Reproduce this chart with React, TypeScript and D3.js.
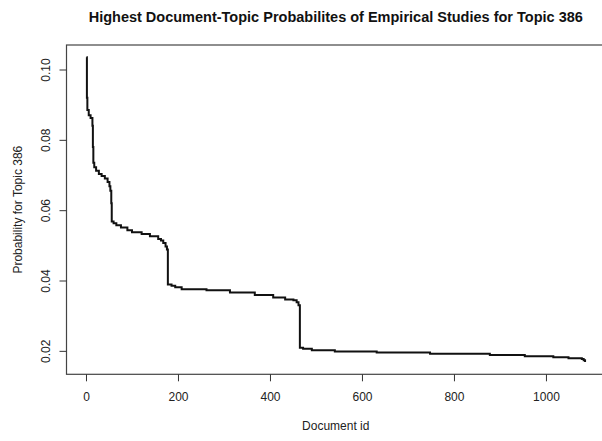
import * as d3 from 'd3';
import { useEffect, useRef } from 'react';

const WIDTH = 602;
const HEIGHT = 441;
const FONT = '"Liberation Sans", Arial, Helvetica, sans-serif';

// plot region (R base graphics box), pixels
const BOX = { left: 66.5, right: 605, top: 45, bottom: 374.3 };

// breakpoints of the sorted curve: document id where a level starts, and its probability
const docIds = [
  1, 2, 3, 6, 10, 14, 15, 16, 18, 22, 28, 34, 41, 47, 51, 53, 55, 56, 60, 66, 76, 90, 100,
  121, 139, 157, 163, 168, 173, 176, 178, 186, 194, 208, 262, 313, 367, 407, 433, 451, 458,
  462, 465, 472, 491, 541, 632, 748, 878, 954, 1016, 1049, 1078, 1082, 1085,
];
const probs = [
  0.1035, 0.092, 0.0885, 0.087, 0.0862, 0.084, 0.078, 0.0735, 0.0722, 0.0712, 0.0703, 0.0697,
  0.069, 0.068, 0.0668, 0.0655, 0.062, 0.0568, 0.0563, 0.0557, 0.0551, 0.0543, 0.0537, 0.0532,
  0.0526, 0.0518, 0.0514, 0.0507, 0.0497, 0.0488, 0.0389, 0.0385, 0.0381, 0.0375, 0.0372,
  0.0366, 0.0359, 0.0352, 0.0346, 0.0344, 0.0338, 0.033, 0.0209, 0.0206, 0.0202, 0.0198,
  0.0195, 0.0192, 0.0188, 0.0185, 0.0182, 0.0179, 0.0177, 0.0173, 0.0168,
];

const xTicks = [0, 200, 400, 600, 800, 1000];
const yTicks = [0.02, 0.04, 0.06, 0.08, 0.1];

const TITLE = 'Highest Document-Topic Probabilites of Empirical Studies for Topic 386';
const X_LABEL = 'Document id';
const Y_LABEL = 'Probability for Topic 386';

// R pads the data range by 4% on each side
function padded(extent: [number, number]): [number, number] {
  const d = (extent[1] - extent[0]) * 0.04;
  return [extent[0] - d, extent[1] + d];
}

export default function App() {
  const xAxisRef = useRef<SVGGElement>(null);
  const yAxisRef = useRef<SVGGElement>(null);

  const x = d3
    .scaleLinear()
    .domain(padded(d3.extent(docIds) as [number, number]))
    .range([BOX.left, BOX.right]);
  const y = d3
    .scaleLinear()
    .domain(padded(d3.extent(probs) as [number, number]))
    .range([BOX.bottom, BOX.top]);

  const points = docIds.map((id, i) => [id, probs[i]] as [number, number]);
  const line = d3
    .line<[number, number]>()
    .x((d) => x(d[0]))
    .y((d) => y(d[1]))
    .curve(d3.curveStepAfter);

  useEffect(() => {
    const xAxis = d3
      .axisBottom(x)
      .tickValues(xTicks)
      .tickSize(7)
      .tickFormat((d) => d3.format('d')(Number(d)));
    const gx = d3.select(xAxisRef.current!).call(xAxis);
    gx.select('.domain').remove();
    gx.selectAll('.tick line').attr('stroke', '#333');
    gx.selectAll('.tick text')
      .attr('y', 18.5)
      .attr('fill', '#222')
      .style('font-family', FONT)
      .style('font-size', '12px');

    const yAxis = d3
      .axisLeft(y)
      .tickValues(yTicks)
      .tickSize(7)
      .tickFormat((d) => d3.format('.2f')(Number(d)));
    const gy = d3.select(yAxisRef.current!).call(yAxis);
    gy.select('.domain').remove();
    gy.selectAll('.tick line').attr('stroke', '#333');
    gy.selectAll('.tick text')
      .attr('transform', 'rotate(-90)')
      .attr('x', 0)
      .attr('y', -16.5)
      .attr('dy', 0)
      .attr('fill', '#222')
      .style('text-anchor', 'middle')
      .style('font-family', FONT)
      .style('font-size', '12px');
  });

  const cx = (BOX.left + BOX.right) / 2;
  const cy = (BOX.top + BOX.bottom) / 2;

  return (
    <svg
      width={WIDTH}
      height={HEIGHT}
      style={{ position: 'absolute', left: 0, top: 0, background: '#fff' }}
    >
      <rect x={0} y={0} width={WIDTH} height={HEIGHT} fill='#fff' />
      <text
        x={cx}
        y={22}
        textAnchor='middle'
        fontFamily={FONT}
        fontWeight='bold'
        fontSize={14.5}
        fill='#111'
      >
        {TITLE}
      </text>
      <rect
        x={BOX.left}
        y={BOX.top}
        width={BOX.right - BOX.left}
        height={BOX.bottom - BOX.top}
        fill='none'
        stroke='#444'
        strokeWidth={1.2}
      />
      <path d={line(points) ?? ''} fill='none' stroke='#111' strokeWidth={2} />
      <g ref={xAxisRef} transform={`translate(0,${BOX.bottom})`} />
      <g ref={yAxisRef} transform={`translate(${BOX.left},0)`} />
      <text x={cx} y={430} textAnchor='middle' fontFamily={FONT} fontSize={12} fill='#222'>
        {X_LABEL}
      </text>
      <text
        transform={`translate(22,${cy}) rotate(-90)`}
        textAnchor='middle'
        fontFamily={FONT}
        fontSize={12}
        fill='#222'
      >
        {Y_LABEL}
      </text>
    </svg>
  );
}
